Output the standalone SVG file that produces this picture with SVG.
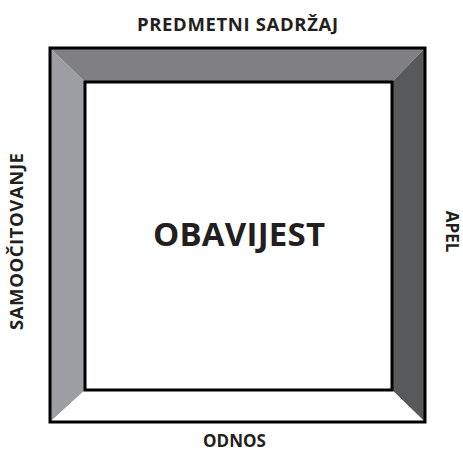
<svg xmlns="http://www.w3.org/2000/svg" width="463" height="453" viewBox="0 0 463 453">
<style>
.lbl{font-family:"Open Sans","Liberation Sans",sans-serif;font-weight:bold;fill:#231f20;text-anchor:middle}
.edge{stroke:none}
.frame{fill:none;stroke:#000;stroke-width:3}
</style>
<rect width="463" height="453" fill="#fff"/>
<g id="frame">
<polygon class="edge" fill="#808083" points="50,48 425,48 392,82 85,82"/>
<polygon class="edge" fill="#9d9ea2" points="50,48 85,82 85,390 50,422"/>
<polygon class="edge" fill="#58595b" points="425,48 425,422 392,390 392,82"/>
<polygon class="edge" fill="#ffffff" points="50,422 85,390 392,390 425,422"/>
<rect class="frame" x="50" y="48" width="375" height="374"/>
<rect class="frame" x="85" y="82" width="307" height="308" fill="#fff"/>
</g>
<g id="predmetni"><text class="lbl" x="237.5" y="31" font-size="18.5" textLength="201" lengthAdjust="spacing">PREDMETNI SADRŽAJ</text></g>
<g id="obavijest"><text class="lbl" x="239" y="246" font-size="33" textLength="172" lengthAdjust="spacing">OBAVIJEST</text></g>
<g id="odnos"><text class="lbl" x="234.5" y="447" font-size="17">ODNOS</text></g>
<g id="samo"><text class="lbl" transform="translate(23,241.5) rotate(-90)" font-size="18.5" textLength="177" lengthAdjust="spacing">SAMOOČITOVANJE</text></g>
<g id="apel"><text class="lbl" transform="translate(446,231.5) rotate(90)" font-size="17">APEL</text></g>
</svg>
